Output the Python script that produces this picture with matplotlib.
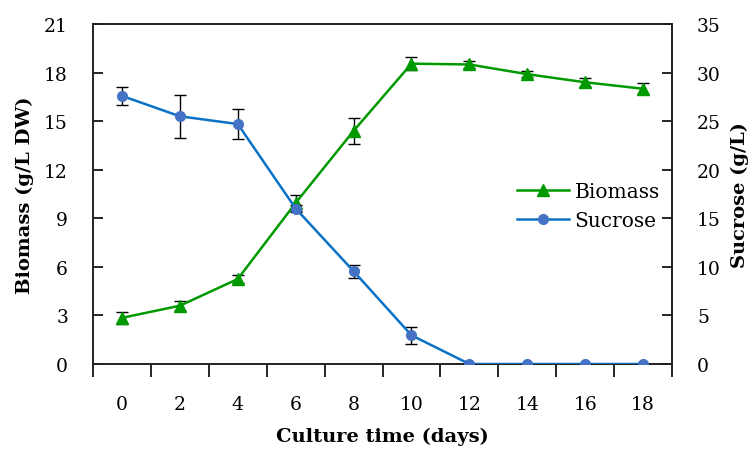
import matplotlib.pyplot as plt
import numpy as np

plt.rcParams['font.family'] = ['DejaVu Serif', 'Liberation Serif']

days = [0, 2, 4, 6, 8, 10, 12, 14, 16, 18]
biomass = [2.85, 3.6, 5.25, 9.95, 14.4, 18.55, 18.5, 17.9, 17.4, 17.0]
biomass_err = [0.35, 0.3, 0.22, 0.5, 0.8, 0.4, 0.2, 0.18, 0.28, 0.35]
sucrose = [27.6, 25.5, 24.7, 16.0, 9.55, 2.95, 0.0, 0.0, 0.0, 0.0]
sucrose_err = [0.9, 2.2, 1.5, 0.4, 0.65, 0.9, 0.0, 0.0, 0.0, 0.0]

green = '#009a00'
blue_line = '#0a72c6'
blue_dot = '#4472c4'

x = np.arange(len(days))

fig = plt.figure(figsize=(7.52, 4.52), dpi=100)
ax = fig.add_axes([0.1237, 0.1925, 0.77, 0.7522])
ax2 = ax.twinx()

ax.errorbar(x, biomass, yerr=biomass_err, color=green, ecolor='black',
            elinewidth=1.0, capsize=4, capthick=1.0, lw=1.8,
            marker='^', ms=8.5, label='Biomass', zorder=3)
ax2.errorbar(x, sucrose, yerr=sucrose_err, color=blue_line, ecolor='black',
             elinewidth=1.0, capsize=4, capthick=1.0, lw=1.8,
             marker='o', ms=7, mfc=blue_dot, mec=blue_dot, label='Sucrose', zorder=3)

ax.set_xlim(-0.5, len(days) - 0.5)
ax.set_ylim(0, 21)
ax2.set_ylim(0, 35)
ax.set_yticks(np.arange(0, 22, 3))
ax2.set_yticks(np.arange(0, 36, 5))

# category labels at centres, tick marks on the boundaries
ax.set_xticks(x)
ax.set_xticklabels([str(d) for d in days])
ax.set_xticks(np.arange(-0.5, len(days), 1), minor=True)
ax.tick_params(axis='x', which='major', length=0, pad=22, labelsize=13.5)
ax.tick_params(axis='x', which='minor', length=9, width=1.2, direction='out')
ax.tick_params(axis='y', direction='in', length=7, width=1.2, labelsize=13.5, pad=18)
ax2.tick_params(axis='y', direction='in', length=7, width=1.2, labelsize=13.5, pad=18)

for a in (ax, ax2):
    for s in a.spines.values():
        s.set_linewidth(1.2)
        s.set_color('#222222')

ax.set_xlabel('Culture time (days)', fontsize=14, fontweight='bold', labelpad=10)
ax.set_ylabel('Biomass (g/L DW)', fontsize=14, fontweight='bold', labelpad=7)
ax2.set_ylabel('Sucrose (g/L)', fontsize=14, fontweight='bold', labelpad=7)

h1, l1 = ax.get_legend_handles_labels()
h2, l2 = ax2.get_legend_handles_labels()
handles = [h[0] for h in h1 + h2]
ax2.legend(handles, l1 + l2, loc='center right', bbox_to_anchor=(1.01, 0.465),
           frameon=False, fontsize=14.5, handlelength=2.6, handletextpad=0.25,
           labelspacing=0.5)

fig.savefig('out.png', dpi=100)
